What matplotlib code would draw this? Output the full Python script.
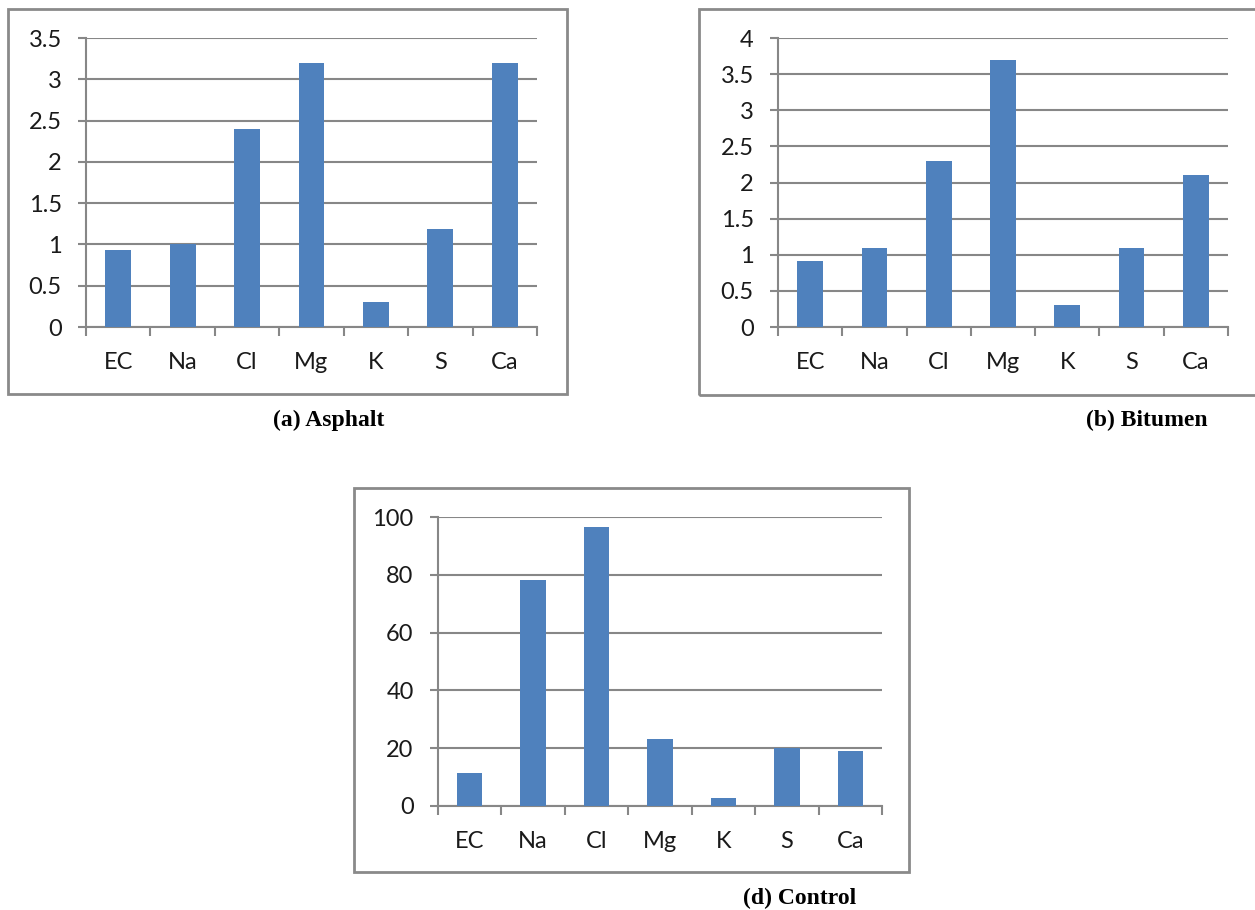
import matplotlib
matplotlib.use("Agg")
import matplotlib.pyplot as plt
from matplotlib.patches import Rectangle
from matplotlib.ticker import FixedLocator, MultipleLocator

# Ion concentrations per treatment
categories = ["EC", "Na", "Cl", "Mg", "K", "S", "Ca"]
asphalt = [0.93, 1.0, 2.4, 3.2, 0.3, 1.19, 3.2]
bitumen = [0.91, 1.1, 2.3, 3.7, 0.3, 1.1, 2.1]
control = [11.4, 78.3, 96.4, 23.3, 2.9, 20.0, 18.9]

captions = ["(a) Asphalt", "(b) Bitumen", "(d) Control"]

W, H = 1255, 910
BAR = "#4F81BD"
GRID = "#878787"
TEXT = "#1a1a1a"

plt.rcParams["font.family"] = ["Lato", "DejaVu Sans"]

fig = plt.figure(figsize=(W / 100, H / 100), dpi=100)
fig.patch.set_facecolor("white")


def px_rect(x0, y0, x1, y1):
    """Pixel box (top-left origin) -> figure fraction [left, bottom, w, h]."""
    return [x0 / W, 1 - y1 / H, (x1 - x0) / W, (y1 - y0) / H]


def frame(x0, y0, x1, y1):
    l, b, w, h = px_rect(x0, y0, x1, y1)
    fig.patches.append(Rectangle((l, b), w, h, transform=fig.transFigure,
                                 fill=False, edgecolor="#8a8a8a", linewidth=2.0,
                                 zorder=0))


def panel(box, values, ymax, ystep):
    ax = fig.add_axes(px_rect(*box))
    x = range(len(categories))
    ax.bar(x, values, width=0.4, color=BAR, zorder=3)
    ax.set_xlim(-0.5, len(categories) - 0.5)
    ax.set_ylim(0, ymax)
    ax.yaxis.set_major_locator(MultipleLocator(ystep))
    ax.yaxis.set_major_formatter(
        plt.FuncFormatter(lambda v, p: ("%g" % v)))
    ax.set_xticks(list(x))
    ax.set_xticklabels(categories)
    ax.xaxis.set_minor_locator(FixedLocator([i - 0.5 for i in range(len(categories) + 1)]))
    ax.tick_params(axis="x", which="major", length=0, pad=18,
                   labelsize=17, labelcolor=TEXT)
    ax.tick_params(axis="x", which="minor", length=6.5, width=1.5,
                   color=GRID, direction="out")
    ax.tick_params(axis="y", which="major", length=5.5, width=1.5,
                   color=GRID, direction="out", pad=12,
                   labelsize=17, labelcolor=TEXT)
    ax.grid(axis="y", color=GRID, linewidth=1.5, zorder=0)
    ax.set_axisbelow(True)
    for s in ("top", "right"):
        ax.spines[s].set_visible(False)
    for s in ("left", "bottom"):
        ax.spines[s].set_color(GRID)
        ax.spines[s].set_linewidth(1.5)
    ax.patch.set_alpha(0)
    return ax


def caption(x, y, text):
    fig.text(x / W, 1 - y / H, text, ha="center", va="center",
             fontsize=17, fontweight="bold", family="Liberation Serif",
             color="black")


# (a) Asphalt
frame(8, 9, 567, 394)
panel((86, 38, 537, 327), asphalt, 3.5, 0.5)
caption(329, 420, captions[0])

# (b) Bitumen
frame(699, 9, 1262, 395)
panel((778, 38, 1228, 327), bitumen, 4.0, 0.5)
caption(1147, 420, captions[1])

# (d) Control
frame(354, 488, 909, 872)
panel((438, 517, 882, 806), control, 100, 20)
caption(800, 898, captions[2])

fig.savefig("out.png", dpi=100, facecolor="white")
